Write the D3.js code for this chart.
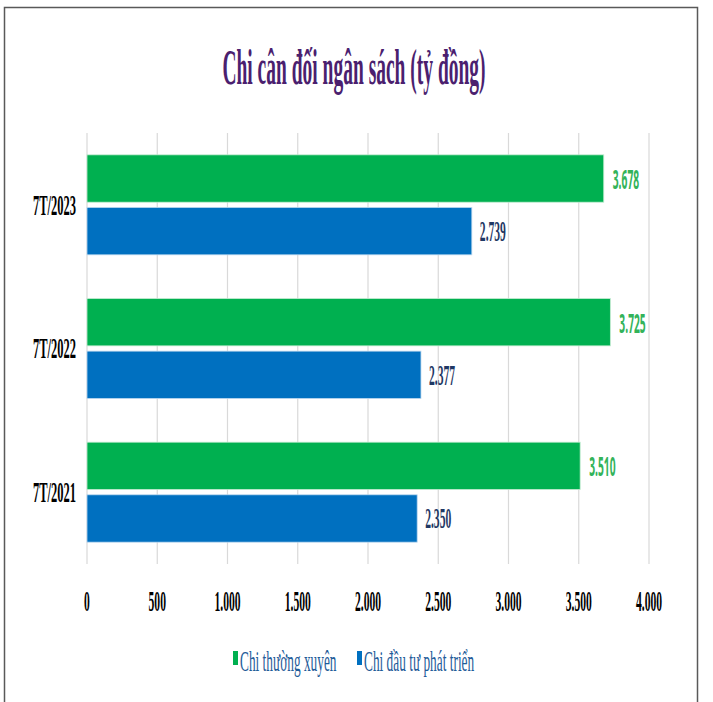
<!DOCTYPE html>
<html>
<head>
<meta charset="utf-8">
<script src="https://cdn.jsdelivr.net/npm/d3@7"></script>
<style>
  body { margin: 0; background: #fff; }
  svg { display: block; }
</style>
</head>
<body>
<div id="chart"></div>
<script>
// 数据
const categories = ['7T/2023', '7T/2022', '7T/2021']
const seriesNames = ['Chi thường xuyên', 'Chi đầu tư phát triển']
const thuongXuyen = [3678, 3725, 3510]
const dauTu = [2739, 2377, 2350]
const ticks = [0, 500, 1000, 1500, 2000, 2500, 3000, 3500, 4000]

const width = 713
const height = 702
const margin = { top: 133, right: 65, bottom: 138, left: 87 }
const colors = ['#00b050', '#0070c0']
const serif = '"Liberation Serif", "Times New Roman", serif'
const squeeze = 0.4 // chữ bị nén ngang như ảnh gốc

const svg = d3.select('#chart').append('svg')
  .attr('width', width)
  .attr('height', height)

// khung
svg.append('rect')
  .attr('x', 4.5).attr('y', 7.5)
  .attr('width', 693).attr('height', 720)
  .attr('fill', '#fff')
  .attr('stroke', '#595959')
  .attr('stroke-width', 1.5)

// chữ nén ngang
function label(parent, x, y, text, opt) {
  const g = parent.append('g')
    .attr('transform', `translate(${x},${y}) scale(${opt.sx || squeeze},1)`)
  g.append('text')
    .attr('text-anchor', opt.anchor || 'middle')
    .attr('dominant-baseline', opt.baseline || 'central')
    .attr('font-family', opt.family || serif)
    .attr('font-weight', opt.weight || 'bold')
    .attr('font-size', opt.size)
    .attr('fill', opt.fill)
    .text(text)
  return g
}

// tiêu đề
label(svg, 354, 84, 'Chi cân đối ngân sách (tỷ đồng)',
  { size: 50, fill: '#4b1f6f', baseline: 'alphabetic', sx: 0.39 })

const x = d3.scaleLinear()
  .domain([0, 4000])
  .range([margin.left, width - margin.right + 1])

const y = d3.scaleBand()
  .domain(categories)
  .range([margin.top, height - margin.bottom])
  .paddingInner(0.304)
  .paddingOuter(0.152)

const ySub = d3.scaleBand()
  .domain([0, 1])
  .range([0, y.bandwidth()])
  .paddingInner(0.1)

// lưới
svg.append('g')
  .selectAll('line')
  .data(ticks)
  .join('line')
  .attr('x1', d => x(d)).attr('x2', d => x(d))
  .attr('y1', margin.top).attr('y2', height - margin.bottom)
  .attr('stroke', '#d9d9d9')
  .attr('stroke-width', 1.2)

const fmt = v => d3.format(',')(v).replace(/,/g, '.')

// nhãn trục x
const xLabels = svg.append('g')
ticks.forEach(t => {
  label(xLabels, x(t), 601, fmt(t), { size: 29, fill: '#000' })
})

// nhãn danh mục
const yLabels = svg.append('g')
categories.forEach(c => {
  label(yLabels, 76, y(c) + y.bandwidth() / 2, c,
    { size: 29, fill: '#000', anchor: 'end', sx: 0.43 })
})

// cột
const rows = categories.map((c, i) => ({ c, values: [thuongXuyen[i], dauTu[i]] }))
const groups = svg.append('g')
  .selectAll('g')
  .data(rows)
  .join('g')
  .attr('transform', d => `translate(0,${y(d.c)})`)

groups.selectAll('rect')
  .data(d => d.values.map((v, k) => ({ v, k })))
  .join('rect')
  .attr('x', x(0))
  .attr('y', d => ySub(d.k))
  .attr('width', d => x(d.v) - x(0))
  .attr('height', ySub.bandwidth())
  .attr('fill', d => colors[d.k])
  .attr('stroke', d => d.k === 0 ? '#c6ecd3' : '#bcd8ef')
  .attr('stroke-width', 0.8)

// nhãn giá trị
groups.each(function (d) {
  const g = d3.select(this)
  d.values.forEach((v, k) => {
    const cy = ySub(k) + ySub.bandwidth() / 2
    if (k === 0) {
      label(g, x(v) + 9, cy, fmt(v),
        { size: 27, fill: '#33b35a', anchor: 'start', family: '"Open Sans", sans-serif', weight: 700, sx: 0.38 })
    } else {
      label(g, x(v) + 8, cy, fmt(v),
        { size: 29, fill: '#1f3864', anchor: 'start' })
    }
  })
})

// chú giải
const legend = svg.append('g')
const legendX = [233, 357]
seriesNames.forEach((s, k) => {
  legend.append('rect')
    .attr('x', legendX[k]).attr('y', 651)
    .attr('width', 5).attr('height', 14)
    .attr('fill', colors[k])
  label(legend, legendX[k] + 7, 661, s,
    { size: 29, fill: '#1f5c99', anchor: 'start', weight: 'normal', sx: 0.46 })
})
</script>
</body>
</html>
